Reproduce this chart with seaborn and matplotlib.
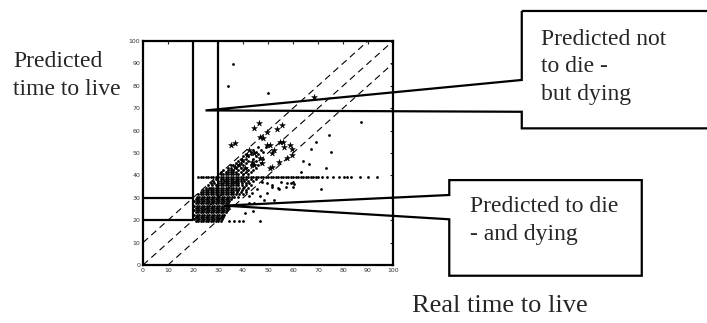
import matplotlib
matplotlib.use("Agg")
import matplotlib.pyplot as plt
import seaborn as sns
import pandas as pd
from matplotlib.patches import Polygon

# dense cluster, rows of (predicted value : real values)
dense_rows = {
    19.5: [21, 22, 23, 24, 25, 26, 27, 28, 29, 30, 31],
    20.5: [20.5, 21.5, 22.5, 23.5, 24.5, 25.5, 26.5, 27.5, 28.5, 29.5, 30.5, 31.5],
    21.5: [21, 22, 23, 24, 25, 26, 27, 28, 29, 30, 31, 32],
    22.5: [20.5, 21.5, 22.5, 23.5, 24.5, 25.5, 26.5, 27.5, 28.5, 29.5, 30.5, 31.5, 32.5],
    23.5: [21, 22, 23, 24, 25, 26, 27, 28, 29, 30, 31, 32, 33],
    24.5: [20.5, 21.5, 22.5, 23.5, 24.5, 25.5, 26.5, 27.5, 28.5, 29.5, 30.5, 31.5, 32.5, 33.5],
    25.5: [21, 22, 23, 24, 25, 26, 27, 28, 29, 30, 31, 32, 33, 34],
    26.5: [20.5, 21.5, 22.5, 23.5, 24.5, 25.5, 26.5, 27.5, 28.5, 29.5, 30.5, 31.5, 32.5, 33.5, 34.5],
    27.5: [21, 22, 23, 24, 25, 26, 27, 28, 29, 30, 31, 32, 33, 34],
    28.5: [20.5, 21.5, 22.5, 23.5, 24.5, 25.5, 26.5, 27.5, 28.5, 29.5, 30.5, 31.5, 32.5, 33.5, 34.5],
    29.5: [21, 22, 23, 24, 25, 26, 27, 28, 29, 30, 31, 32, 33, 34, 35],
    30.5: [21.5, 22.5, 23.5, 24.5, 25.5, 26.5, 27.5, 28.5, 29.5, 30.5, 31.5, 32.5, 33.5, 34.5, 35.5, 36.5, 38],
    31.5: [22, 23, 24, 25, 26, 27, 28, 29, 30, 31, 32, 33, 34, 35, 36, 37, 38.5, 40],
    32.5: [23, 24, 25, 26, 27, 28, 29, 30, 31, 32, 33, 34, 35, 36, 37.5, 39, 41],
    33.5: [24, 25, 26, 27, 28, 29, 30, 31, 32, 33, 34, 35, 36, 37, 38, 39.5, 41],
    34.5: [25, 26.5, 27, 28, 29, 30, 31, 32, 33, 34, 35, 36, 37, 38.5, 40, 42],
    35.5: [26, 27.5, 29, 30, 31, 32, 33, 34, 35, 36, 37, 38, 39.5, 41, 43],
    36.5: [27, 28.5, 30, 31, 32, 33, 34, 35, 36, 37, 38, 39.5, 41, 42.5],
    37.5: [28, 30, 31, 32.5, 33, 34, 35, 36, 37, 38, 39, 40.5, 42, 44],
    38.5: [29, 31, 32, 33, 34, 35, 36, 37, 38, 39, 40, 41, 43, 45],
}

# flat line of predictions at ~39.5
band_x = [22, 23, 24, 25, 26, 27, 28, 29, 30, 31, 32, 33, 34, 35, 36, 37, 38, 39, 40,
          41, 42, 43, 44, 45, 46, 47, 48, 49, 50, 51, 52, 53, 54, 55, 56, 57, 58, 59,
          60, 61, 62, 63, 64, 65, 66, 67, 68, 69, 70, 71.5, 73.5, 75.9, 78.4, 80.4,
          81.7, 83.1, 86.8, 90.1, 93.5]
band_y = 39.5

# sparser points above the flat line
upper_rows = {
    40.5: [31, 32, 33, 34, 35, 36, 37, 38, 40, 42],
    41.5: [31, 33, 34, 35, 36, 37, 39, 41, 43],
    42.5: [32, 34, 35, 36, 38, 40, 42, 44],
    43.5: [34, 35, 37, 39, 41, 45],
    44.5: [35, 36, 38, 40, 43, 46],
    45.5: [37, 39, 41, 44, 47],
    46.5: [38, 40, 42, 45],
    47.5: [39, 41, 44, 48],
    48.5: [40, 42, 45],
    49.5: [41, 43, 46],
    50.5: [43, 45, 48],
    51.5: [44, 47],
    52.5: [46, 49],
}

# isolated points
stray_x = [36.1, 34.0, 50.0, 87.2, 74.3, 75.2, 73.3, 71.2, 69.2, 67.3, 64.0, 63.1,
           59.2, 57.2, 54.1, 51.5, 49.5, 60.1, 59.9, 55.1, 34.3, 36.3, 38.3, 40.0,
           46.9, 40.9, 44.0, 42.3, 44.3, 52.3, 48.3, 51.6, 54.3, 57.6, 60.3, 47.6,
           49.6, 45.6, 43.6, 46.9, 42.3, 40.3, 66.5]
stray_y = [89.9, 79.8, 76.9, 63.8, 58.0, 50.6, 43.5, 33.8, 55.0, 51.8, 46.4, 41.7,
           36.5, 35.0, 34.2, 35.0, 32.0, 35.0, 37.2, 37.2, 19.7, 19.7, 19.7, 19.7,
           19.7, 23.4, 24.3, 27.6, 27.6, 29.1, 29.1, 35.8, 33.8, 36.5, 36.2, 37.2,
           36.8, 33.8, 32.0, 30.6, 30.6, 35.0, 45.1]

# clumps of overlapping points
clump_x = [68.2, 36.9, 35.0, 46.3, 44.3, 46.9, 49.6, 53.6, 55.6, 50.9, 54.9, 52.3,
           56.3, 59.6, 58.9, 59.6, 57.6, 54.3, 51.6, 49.6, 50.9, 51.6, 47.6, 44.3,
           41.6, 42.3, 43.6, 39.6, 44.3, 46.9, 40.9, 38.3, 36.9, 47.9, 56.1]
clump_y = [74.8, 54.6, 53.6, 63.5, 61.3, 57.3, 59.5, 60.5, 62.5, 53.6, 55.0, 51.3,
           52.8, 52.0, 53.6, 49.1, 47.6, 46.1, 49.9, 53.6, 43.2, 43.9, 45.4, 44.7,
           49.1, 51.3, 46.1, 46.9, 49.9, 47.6, 43.2, 44.7, 43.9, 56.6, 55.0]

ticks = [0, 10, 20, 30, 40, 50, 60, 70, 80, 90, 100]

rows = []
for yv, xs in dense_rows.items():
    rows += [(xv, yv) for xv in xs]
for yv, xs in upper_rows.items():
    rows += [(xv, yv) for xv in xs]
rows += [(xv, band_y) for xv in band_x]
rows += list(zip(stray_x, stray_y))
dots = pd.DataFrame(rows, columns=["real", "predicted"])
clumps = pd.DataFrame({"real": clump_x, "predicted": clump_y})

sns.set_style("white")
plt.rcParams["font.family"] = ["DejaVu Sans"]
serif = ["Liberation Serif", "DejaVu Serif"]

fig = plt.figure(figsize=(7.07, 3.23), dpi=100)
ax = fig.add_axes([0.2023, 0.1796, 0.3536, 0.6935])

sns.scatterplot(data=dots, x="real", y="predicted", ax=ax, color="black",
                marker="o", s=4, linewidth=0, legend=False)
sns.scatterplot(data=clumps, x="real", y="predicted", ax=ax, color="black",
                marker="*", s=20, linewidth=0.3, edgecolor="black", legend=False)

# diagonal bands
dash = dict(color="black", lw=0.8, dashes=(6, 4))
ax.plot([0, 90], [10, 100], **dash)
ax.plot([0, 100], [0, 100], **dash)
ax.plot([10, 100], [0, 90], **dash)

# threshold lines
solid = dict(color="black", lw=1.6, solid_capstyle="butt")
ax.plot([20, 20], [20, 100], **solid)
ax.plot([30, 30], [30, 100], **solid)
ax.plot([0, 20], [30, 30], **solid)
ax.plot([0, 20], [20, 20], **solid)

ax.set_xlim(0, 100)
ax.set_ylim(0, 100)
ax.set_xticks(ticks)
ax.set_yticks(ticks)
ax.set_xticklabels([str(t) for t in ticks])
ax.set_yticklabels([str(t) for t in ticks])
ax.tick_params(direction="in", length=2, width=0.8, labelsize=4.5, labelcolor="#333333",
               top=True, right=True, pad=2)
ax.set_xlabel("")
ax.set_ylabel("")
for sp in ax.spines.values():
    sp.set_visible(True)
    sp.set_linewidth(1.6)
    sp.set_color("black")

# callout boxes (data coordinates, drawn outside the axes)
call1 = [(151.5, 113.4), (230, 113.4), (230, 61.0), (151.5, 61.0), (151.5, 68.4),
         (25, 69), (151.5, 82.6)]
call2 = [(122.5, 37.9), (199.5, 37.9), (199.5, -4.8), (122.5, -4.8), (122.5, 20.4),
         (32.5, 26.5), (122.5, 31.25)]
for pts in (call1, call2):
    ax.add_patch(Polygon(pts, closed=True, facecolor="none", edgecolor="black",
                         lw=1.6, clip_on=False, joinstyle="miter"))


def line_text(x_px, base_px, s, size):
    fig.text(x_px / 707, 1 - base_px / 323, s, family=serif, fontsize=size,
             va="baseline", ha="left")


line_text(541, 45, "Predicted not", 17)
line_text(541, 72, "to die -", 17)
line_text(541, 100, "but dying", 17)
line_text(470, 212, "Predicted to die", 17)
line_text(470, 240, "- and dying", 17)
line_text(13, 67, "Predicted", 17)
line_text(13, 95, "time to live", 17)
line_text(412, 312, "Real time to live", 19)

fig.savefig("out.png", dpi=100)
